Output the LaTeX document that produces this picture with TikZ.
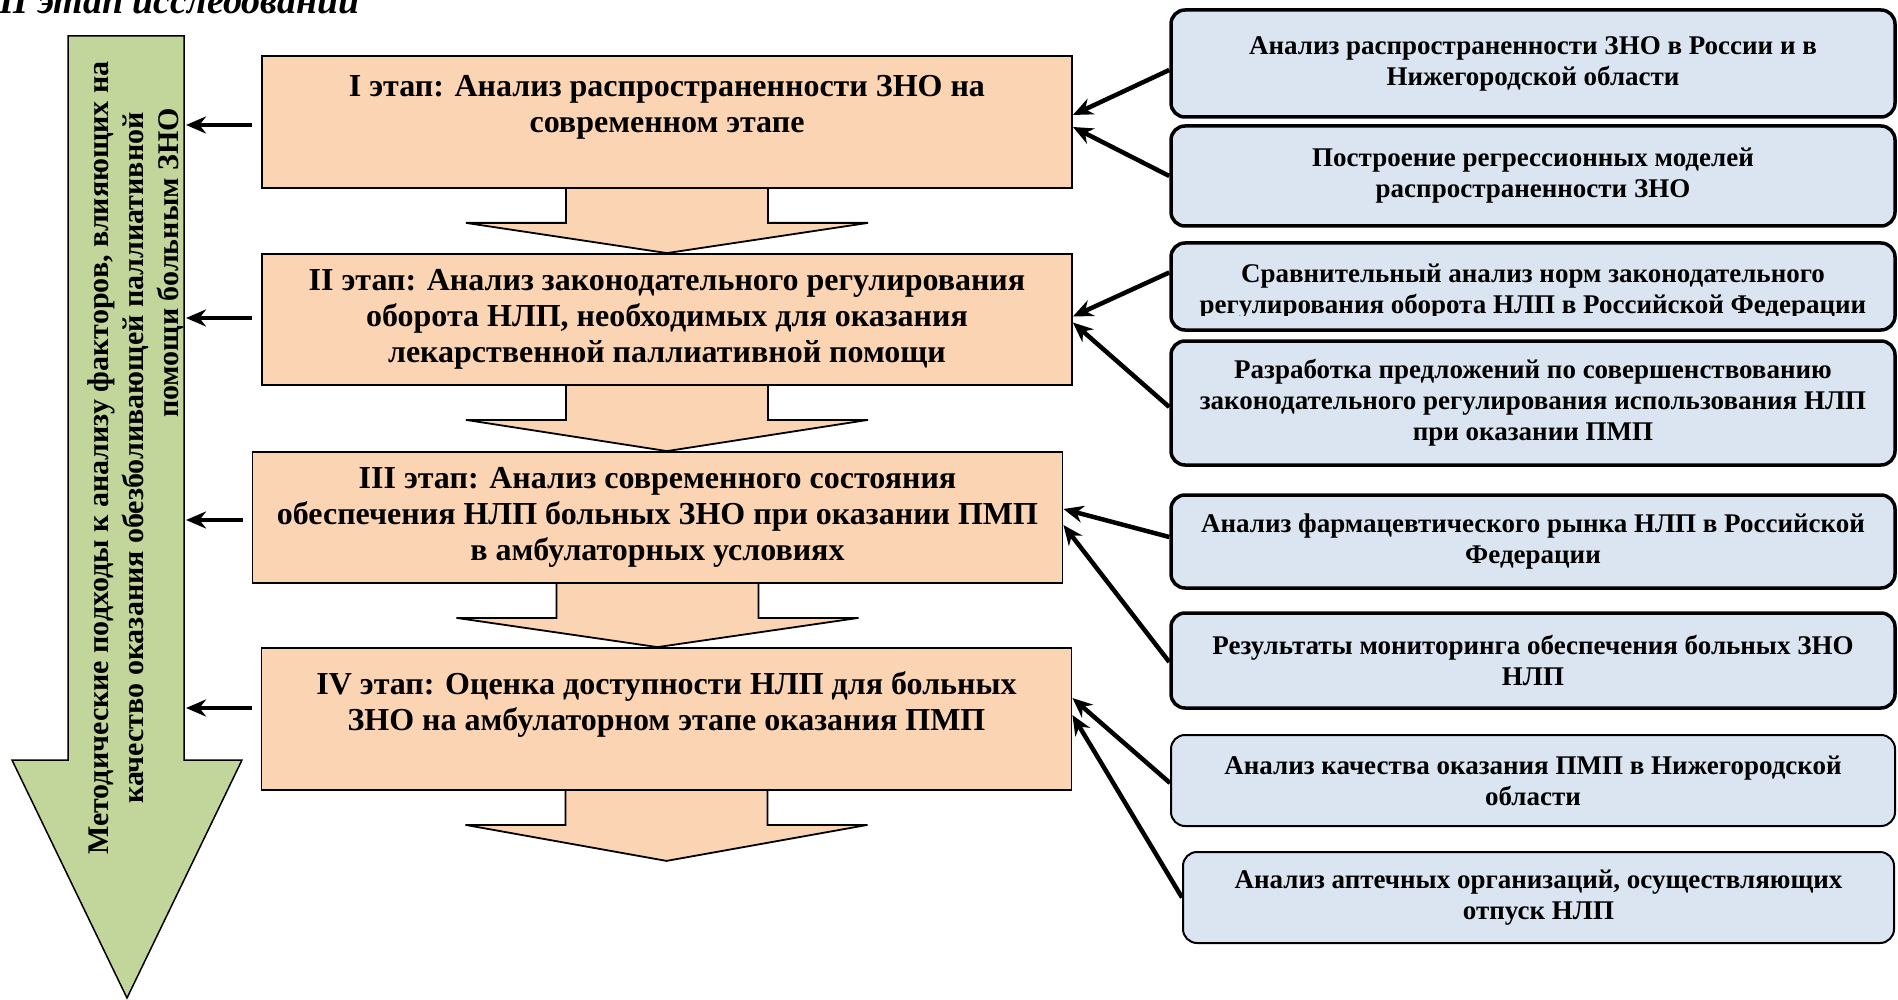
\documentclass[tikz,border=0pt]{standalone}
\usepackage{fontspec}
\setmainfont{Liberation Serif}
\usepackage{xcolor}
\definecolor{StageOrange}{HTML}{FBD4B4}
\definecolor{TaskBlue}{HTML}{DBE5F1}
\definecolor{MethodGreen}{HTML}{C2D69B}
\usetikzlibrary{calc, arrows.meta, backgrounds}
\newcommand{\flowarrow}[2]{%
  \filldraw[flow] ([xshift=-101pt]#1.south) -- ++(0,34) -- ++(-100,0) -- (#2)
    -- ($(#1.south)+(201,34)$) -- ++(-100,0) -- ++(0,-34);}

\begin{document}
\begin{tikzpicture}[
    x=1pt, y=-1pt,
    % Styles
    stage/.style={rectangle, draw=black, line width=1.8pt, fill=StageOrange, minimum width=810pt, align=center, font=\bfseries\fontsize{32}{36}\selectfont},
    task_text/.style={align=center, font=\bfseries\fontsize{27}{31}\selectfont},
    task/.style={task_text, rectangle, rounded corners=14pt, draw=black, line width=3.5pt, fill=TaskBlue, minimum width=724pt},
    thin_task/.style={task, line width=2pt},
    link/.style={-{Stealth[length=20pt, width=17pt]}, line width=4.5pt},
    flow/.style={fill=StageOrange, draw=black, line width=1.8pt},
    method/.style={fill=MethodGreen, draw=black, line width=1.5pt}
]
    \useasboundingbox (0,0) rectangle (1898,1000);

    % 1. TITLE
    \node[font=\bfseries\itshape\fontsize{38}{44}\selectfont, anchor=base west, inner sep=0pt] (title) at (-1,14) {II этап исследований};

    % 2. THE METHOD ARROW (left)
    \filldraw[method] (68,36) -- (184,36) -- (184,760) -- (242,760) -- (127,998) -- (12,760) -- (68,760) -- cycle;
    \node[rotate=90, align=center, font=\bfseries\fontsize{30}{35}\selectfont] (methodtext) at (136,458)
        {Методические подходы к анализу факторов, влияющих на\\качество оказания обезболивающей паллиативной\\\makebox[700pt][r]{помощи больным ЗНО}};

    % 3. THE STAGES
    \node[stage, minimum height=132pt] (stage1) at (667,122) {I этап: Анализ распространенности ЗНО на\\современном этапе\\\mbox{}};
    \node[stage, minimum height=131pt] (stage2) at (667,319.5) {II этап: Анализ законодательного регулирования\\оборота НЛП, необходимых для оказания\\лекарственной паллиативной помощи};
    \node[stage, minimum height=131pt] (stage3) at (657.5,517.5) {III этап: Анализ современного состояния\\обеспечения НЛП больных ЗНО при оказании ПМП\\в амбулаторных условиях};
    \node[stage, minimum height=142pt] (stage4) at (666.5,719) {IV этап: Оценка доступности НЛП для больных\\ЗНО на амбулаторном этапе оказания ПМП\\\mbox{}};

    % Flow between stages
    \begin{scope}[on background layer]
        \flowarrow{stage1}{stage2.north}
        \flowarrow{stage2}{stage2.south |- stage3.north}
        \flowarrow{stage3}{stage3.south |- stage4.north}
        \coordinate (flowend) at ([yshift=-70pt]stage4.south);
        \flowarrow{stage4}{flowend}
    \end{scope}

    % Stages feed the method arrow
    \foreach \s/\y in {1/125, 2/318, 3/520, 4/708}{
        \coordinate (m\s) at (186,\y);
        \draw[link] ([xshift=-9pt]stage\s.west |- m\s) -- (m\s);
    }

    % 4. THE TASKS (right)
    \node[task, minimum height=107pt] (task1) at (1533,63.5) {Анализ распространенности ЗНО в России и в\\Нижегородской области};
    \node[task, minimum height=100pt] (task2) at (1533,176) {Построение регрессионных моделей\\распространенности ЗНО};
    \node[task, minimum height=87pt] (task3) at (1533,286.5) {};
    \begin{scope}
        \clip (task3.north west) rectangle ([yshift=16pt]task3.south east);
        \node[task_text] (task3text) at (1533,292) {Сравнительный анализ норм законодательного\\регулирования оборота НЛП в Российской Федерации};
    \end{scope}
    \node[task, minimum height=124pt] (task4) at (1533,403) {Разработка предложений по совершенствованию\\законодательного регулирования использования НЛП\\при оказании ПМП};
    \node[task, minimum height=93pt] (task5) at (1533,541.5) {Анализ фармацевтического рынка НЛП в Российской\\Федерации};
    \node[task, minimum height=95pt] (task6) at (1533,660.5) {Результаты мониторинга обеспечения больных ЗНО\\НЛП};
    \node[thin_task, minimum height=91pt] (task7) at (1533,780.5) {Анализ качества оказания ПМП в Нижегородской\\области};
    \node[thin_task, minimum height=91pt, minimum width=711pt] (task8) at (1538.5,897.5) {Анализ аптечных организаций, осуществляющих\\отпуск НЛП};

    % Tasks feed the stages
    \foreach \t/\s/\dt/\ds in {1/1/-6.5/7, 2/1/0/-5, 3/2/14/3, 4/2/-4/-3, 5/3/4.5/8.5, 6/3/-1.5/-7.5, 7/4/-2.5/21, 8/4/0/4}
        \draw[link] ([yshift=\dt pt]task\t.west) -- ([yshift=\ds pt]stage\s.east);

\end{tikzpicture}
\end{document}
